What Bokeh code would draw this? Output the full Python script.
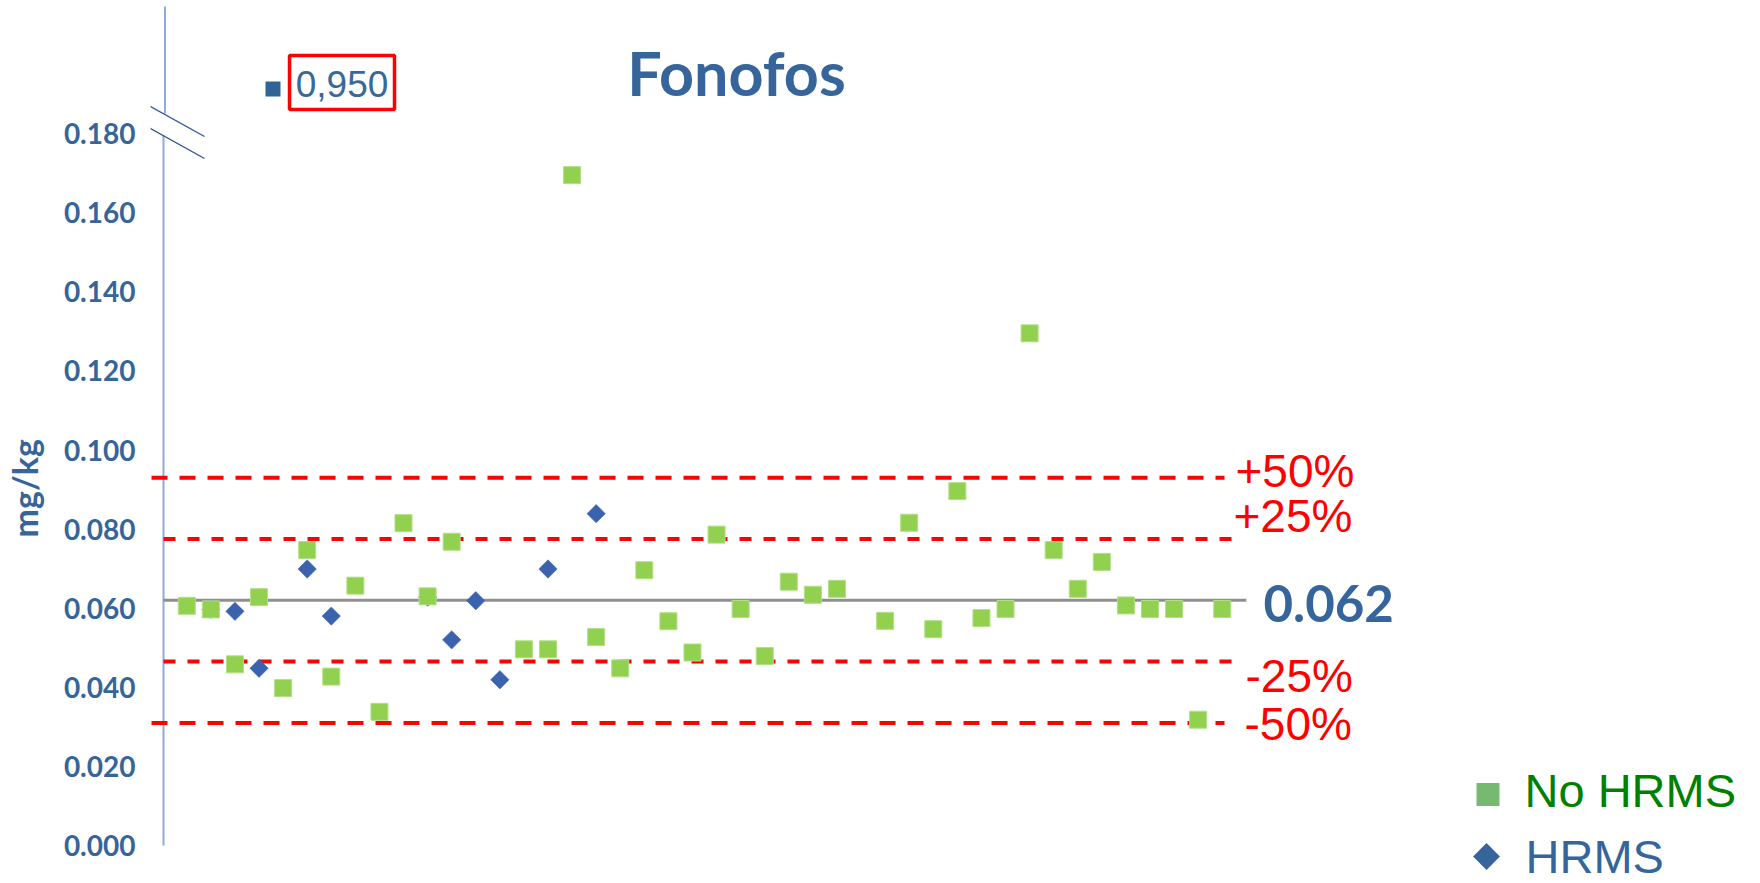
import math
from bokeh.plotting import figure
from bokeh.models import Range1d, Label, FixedTicker, NumeralTickFormatter, Title
from bokeh.embed import file_html
from bokeh.resources import INLINE

# ---------------- data ----------------
no_hrms_samples = [1, 2, 3, 4, 5, 6, 7, 8, 9, 10, 11, 12,
                   15, 16, 17, 18, 19, 20, 21, 22, 23, 24, 25, 26, 27, 28,
                   30, 31, 32, 33, 34, 35, 36, 37, 38, 39, 40, 41, 42, 43, 44]
no_hrms_values = [0.0606, 0.0597, 0.0458, 0.0628, 0.0398, 0.0747, 0.0427, 0.0657, 0.0338, 0.0815, 0.0630, 0.0768,
                  0.0496, 0.0496, 0.1695, 0.0527, 0.0448, 0.0696, 0.0567, 0.0488, 0.0786, 0.0598, 0.0479, 0.0667, 0.0634, 0.0649,
                  0.0568, 0.0816, 0.0547, 0.0896, 0.0575, 0.0598, 0.1295, 0.0747, 0.0649, 0.0717, 0.0607, 0.0598, 0.0598, 0.0318, 0.0598]

hrms_samples = [2, 3, 4, 6, 7, 11, 12, 13, 14, 16, 18]
hrms_values = [0.0597, 0.0592, 0.0448, 0.0699, 0.0580, 0.0628, 0.0520, 0.0619, 0.0419, 0.0699, 0.0839]

hrms_outlier_label = "0,950"

reference_value = 0.062
reference_label = "0.062"
tolerances = [0.50, 0.25, -0.25, -0.50]
tolerance_labels = ["+50%", "+25%", "-25%", "-50%"]

y_ticks = [0.0, 0.02, 0.04, 0.06, 0.08, 0.10, 0.12, 0.14, 0.16, 0.18]

title_text = "Fonofos"
y_label = "mg/kg"
legend_labels = ["No HRMS", "HRMS"]

# ---------------- layout (screen px of the page) ----------------
W, H = 1760, 883
FRAME_L, FRAME_R, FRAME_T, FRAME_B = 150, W, 0, H
X0_PX, DX_PX = 186.3, 24.08      # px of sample 1, px per sample
Y0_PX, DY_PX = 845.0, 3955.0     # px of value 0, px per unit


def dx(px):
    return (px - X0_PX) / DX_PX + 1


def dy(py):
    return (Y0_PX - py) / DY_PX


BLUE = "#35659A"
RED = "#FF0000"

p = figure(width=W, height=H, output_backend="svg", toolbar_location=None,
           x_range=Range1d(dx(FRAME_L), dx(FRAME_R)),
           y_range=Range1d(dy(FRAME_B), dy(FRAME_T)),
           x_axis_location=None,
           min_border_left=FRAME_L, min_border_right=0,
           min_border_top=0, min_border_bottom=0)
p.outline_line_color = None
p.grid.visible = False
p.background_fill_color = "white"

yax = p.yaxis[0]
yax.ticker = FixedTicker(ticks=y_ticks)
yax.formatter = NumeralTickFormatter(format="0.000")
yax.axis_line_color = None
yax.major_tick_line_color = None
yax.minor_tick_line_color = None
yax.major_tick_out = 0
yax.major_tick_in = 0
yax.major_label_standoff = 15
yax.major_label_text_font = "Lato"
yax.major_label_text_font_style = "bold"
yax.major_label_text_font_size = "28px"
yax.major_label_text_color = BLUE

# spacer between tick labels and the y axis label
p.add_layout(Title(text=" ", text_font_size="1px", standoff=10), "left")
# y axis label as a side title, placed along the axis
p.add_layout(Title(text=y_label, align="left", offset=346, vertical_align="top", standoff=2,
                   text_font="Lato", text_font_style="bold", text_font_size="34px",
                   text_color=BLUE), "left")

# axis line with break
n_samples = max(no_hrms_samples + hrms_samples)
p.segment(x0=[dx(163)], y0=[0.0], x1=[dx(163)], y1=[dy(135)], line_color="#8EA9DB", line_width=2)
p.segment(x0=[dx(164.5)], y0=[dy(113)], x1=[dx(164.5)], y1=[dy(6)], line_color="#4472C4", line_width=1.2)
p.segment(x0=[dx(123), dx(123)], y0=[dy(91), dy(113)], x1=[dx(204), dx(204)], y1=[dy(136), dy(158)],
          line_color="#2F5597", line_width=1.4)

# reference line
p.segment(x0=[dx(163)], y0=[reference_value], x1=[n_samples + 1], y1=[reference_value],
          line_color="#8F8F8F", line_width=3)

# tolerance lines
tol_ends = {0.5: (dx(151), dx(1224), "16 12"), 0.25: (dx(163), dx(1239), "12 12")}
for t in tolerances:
    x_start, x_end, dash = tol_ends[abs(t)]
    yv = reference_value * (1 + t)
    p.segment(x0=[x_start], y0=[yv], x1=[x_end], y1=[yv], line_color=RED, line_width=4, line_dash=dash)

# data markers
p.scatter(hrms_samples, hrms_values, marker="square", angle=math.pi / 4, size=13,
          fill_color="#3B63AD", line_color="#3B63AD", line_width=0.5)
p.scatter(no_hrms_samples, no_hrms_values, marker="square", size=17,
          fill_color="#92D050", line_color="#B2DF85", line_width=1)

# labels on the right (cap centres)
tol_label_pos = {"+50%": (1235, 470), "+25%": (1233, 515.5), "-25%": (1245, 675.5), "-50%": (1244, 723.5)}
for lab in tolerance_labels:
    lx, ly = tol_label_pos[lab]
    p.add_layout(Label(x=dx(lx), y=dy(ly), text=lab, text_font="Liberation Sans", text_font_size="46px",
                       text_color=RED, text_align="left", text_baseline="middle"))

p.add_layout(Label(x=dx(1263), y=dy(602.5), text=reference_label, text_font="Lato", text_font_style="bold",
                   text_font_size="51px", text_color=BLUE, text_align="left", text_baseline="middle"))

# title
p.add_layout(Label(x=dx(736), y=dy(72), text=title_text, text_font="Lato", text_font_style="bold",
                   text_font_size="61px", text_color=BLUE, text_align="center", text_baseline="middle"))

# off-scale annotation
p.scatter([dx(272.5)], [dy(88.5)], marker="square", size=15, fill_color="#2F6496", line_color=None)
p.quad(left=[dx(289)], right=[dx(394)], top=[dy(55)], bottom=[dy(109)],
       fill_color=None, line_color=RED, line_width=3.5)
p.add_layout(Label(x=dx(341.5), y=dy(83.5), text=hrms_outlier_label, text_font="Liberation Sans",
                   text_font_size="37px", text_color="#3A6899", text_align="center", text_baseline="middle"))

# legend
p.scatter([dx(1487.5)], [dy(794)], marker="square", size=23, fill_color="#77B972", line_color=None)
p.scatter([dx(1486)], [dy(856)], marker="square", angle=math.pi / 4, size=19, fill_color=BLUE, line_color=None)
p.add_layout(Label(x=dx(1524), y=dy(790), text=legend_labels[0], text_font="Liberation Sans",
                   text_font_size="47px", text_color="#008000", text_align="left", text_baseline="middle"))
p.add_layout(Label(x=dx(1525), y=dy(856), text=legend_labels[1], text_font="Liberation Sans",
                   text_font_size="47px", text_color=BLUE, text_align="left", text_baseline="middle"))

open("out.html", "w").write(file_html(p, INLINE))
